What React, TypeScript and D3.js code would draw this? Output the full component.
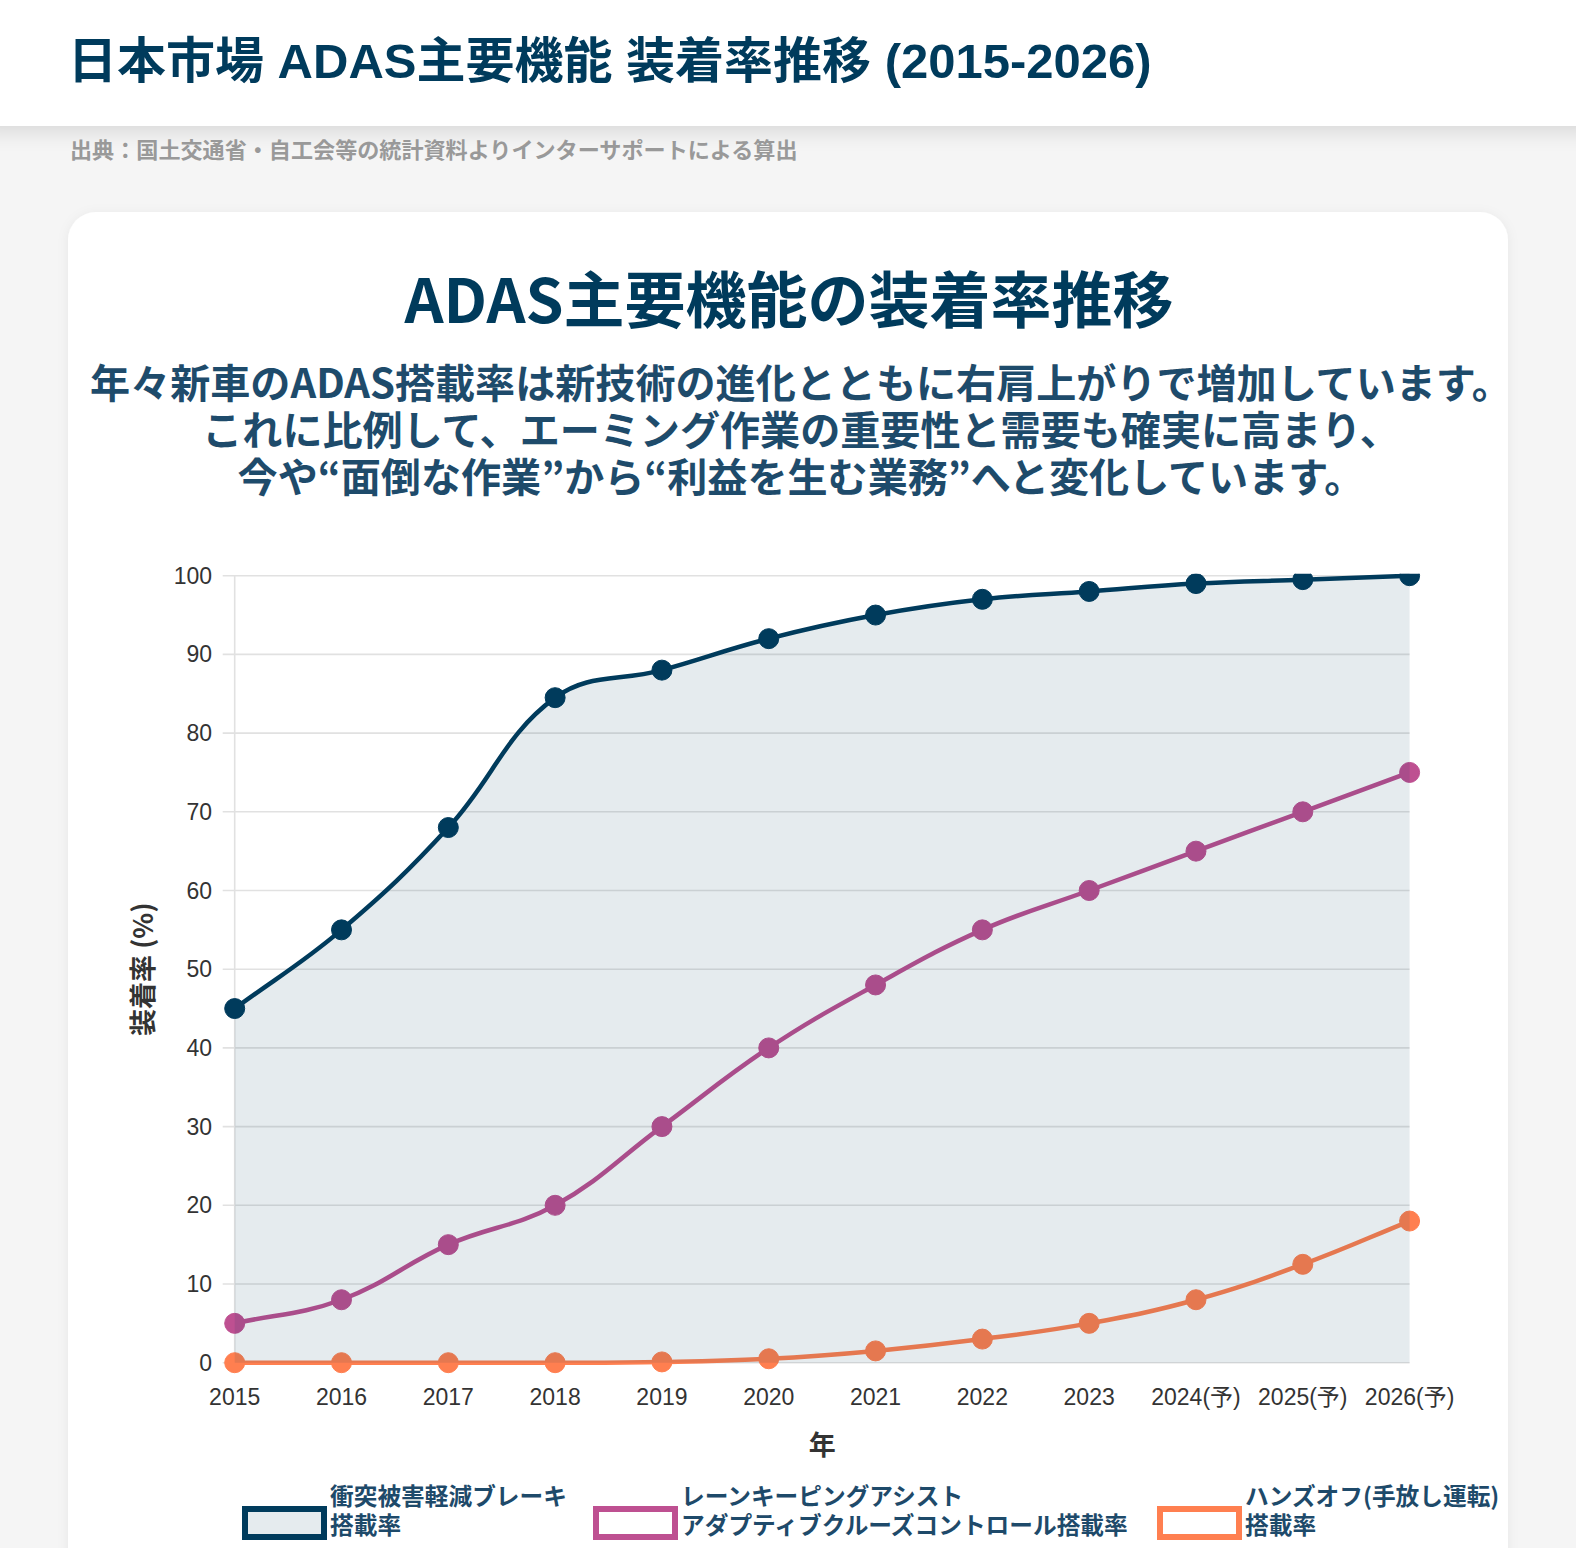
import React, { useRef, useEffect } from "react";
import * as d3 from "d3";

// ADAS feature fitment rates in new cars, Japan 2015-2026
const years = [
  "2015", "2016", "2017", "2018", "2019", "2020",
  "2021", "2022", "2023", "2024(予)", "2025(予)", "2026(予)",
];
const aebRate = [45, 55, 68, 84.5, 88, 92, 95, 97, 98, 99, 99.5, 100];
const lkaAccRate = [5, 8, 15, 20, 30, 40, 48, 55, 60, 65, 70, 75];
const handsOffRate = [0, 0, 0, 0, 0.1, 0.5, 1.5, 3, 5, 8, 12.5, 18];
const yTicks = [0, 10, 20, 30, 40, 50, 60, 70, 80, 90, 100];

const seriesNames = [
  ["衝突被害軽減ブレーキ", "搭載率"],
  ["レーンキーピングアシスト", "アダプティブクルーズコントロール搭載率"],
  ["ハンズオフ(手放し運転)", "搭載率"],
];

const pageTitle = "日本市場 ADAS主要機能 装着率推移 (2015-2026)";
const sourceNote = "出典：国土交通省・自工会等の統計資料よりインターサポートによる算出";
const chartTitle = "ADAS主要機能の装着率推移";
const leadLines = [
  "年々新車のADAS搭載率は新技術の進化とともに右肩上がりで増加しています。",
  "これに比例して、エーミング作業の重要性と需要も確実に高まり、",
  "今や“面倒な作業”から“利益を生む業務”へと変化しています。",
];

const W = 1576;
const H = 1548;
const NAVY = "#003b5c";
const PLUM = "#be5091";
const CORAL = "#ff7f50";
const JP = "'Noto Sans CJK JP', 'Noto Sans', sans-serif";
const LAT = "'Liberation Sans', Arial, 'Noto Sans CJK JP', sans-serif";
const TENSION = 0.4;

type Pt = [number, number];

// tension spline through the points, control points kept inside the plot box
function splinePath(pts: Pt[], box: { x0: number; x1: number; y0: number; y1: number }) {
  const clampX = (v: number) => Math.max(box.x0, Math.min(box.x1, v));
  const clampY = (v: number) => Math.max(box.y0, Math.min(box.y1, v));
  const n = pts.length;
  const cpIn: Pt[] = [];
  const cpOut: Pt[] = [];
  for (let i = 0; i < n; i++) {
    const p0 = pts[Math.max(0, i - 1)];
    const p1 = pts[i];
    const p2 = pts[Math.min(n - 1, i + 1)];
    const d01 = Math.hypot(p1[0] - p0[0], p1[1] - p0[1]);
    const d12 = Math.hypot(p2[0] - p1[0], p2[1] - p1[1]);
    let s01 = d01 / (d01 + d12);
    let s12 = d12 / (d01 + d12);
    if (!isFinite(s01)) s01 = 0;
    if (!isFinite(s12)) s12 = 0;
    const fa = TENSION * s01;
    const fb = TENSION * s12;
    const dx = p2[0] - p0[0];
    const dy = p2[1] - p0[1];
    cpIn.push([clampX(p1[0] - fa * dx), clampY(p1[1] - fa * dy)]);
    cpOut.push([clampX(p1[0] + fb * dx), clampY(p1[1] + fb * dy)]);
  }
  const path = d3.path();
  path.moveTo(pts[0][0], pts[0][1]);
  for (let i = 1; i < n; i++) {
    path.bezierCurveTo(cpOut[i - 1][0], cpOut[i - 1][1], cpIn[i][0], cpIn[i][1], pts[i][0], pts[i][1]);
  }
  return path.toString();
}

export default function App() {
  const svgRef = useRef<SVGSVGElement>(null);

  useEffect(() => {
    document.body.style.margin = "0";
    document.body.style.overflow = "hidden";

    const svg = d3.select(svgRef.current);
    svg.selectAll("*").remove();
    svg.attr("viewBox", `0 0 ${W} ${H}`);

    const defs = svg.append("defs");
    const hdrShadow = defs.append("filter").attr("id", "hdrShadow")
      .attr("x", "-5%").attr("y", "-50%").attr("width", "110%").attr("height", "200%");
    hdrShadow.append("feDropShadow").attr("dx", 0).attr("dy", 6)
      .attr("stdDeviation", 10).attr("flood-color", "#000").attr("flood-opacity", 0.12);
    const cardShadow = defs.append("filter").attr("id", "cardShadow")
      .attr("x", "-5%").attr("y", "-5%").attr("width", "110%").attr("height", "110%");
    cardShadow.append("feDropShadow").attr("dx", 0).attr("dy", 2)
      .attr("stdDeviation", 6).attr("flood-color", "#000").attr("flood-opacity", 0.06);

    // page background, header band
    svg.append("rect").attr("width", W).attr("height", H).attr("fill", "#f5f5f5");
    svg.append("rect").attr("x", -20).attr("y", -20).attr("width", W + 40).attr("height", 146)
      .attr("fill", "#fff").attr("filter", "url(#hdrShadow)");

    svg.append("text").attr("x", 68).attr("y", 61)
      .attr("dominant-baseline", "central")
      .attr("font-family", LAT).attr("font-weight", 700).attr("font-size", 49)
      .attr("fill", NAVY).text(pageTitle);

    svg.append("text").attr("x", 70).attr("y", 148)
      .attr("dominant-baseline", "central")
      .attr("font-family", JP).attr("font-weight", 700).attr("font-size", 22.1)
      .attr("fill", "#999").text(sourceNote);

    // card
    svg.append("rect").attr("x", 68).attr("y", 212).attr("width", 1440).attr("height", 1420)
      .attr("rx", 28).attr("fill", "#fff").attr("filter", "url(#cardShadow)");

    svg.append("text").attr("x", 789).attr("y", 296)
      .attr("text-anchor", "middle").attr("dominant-baseline", "central")
      .attr("font-family", JP).attr("font-weight", 700).attr("font-size", 61)
      .attr("fill", NAVY).text(chartTitle);

    svg.append("g").selectAll("text").data(leadLines).join("text")
      .attr("x", 801).attr("y", (_, i) => 380 + i * 47.3)
      .attr("text-anchor", "middle").attr("dominant-baseline", "central")
      .attr("font-family", JP).attr("font-weight", 700).attr("font-size", 40.1)
      .attr("fill", "#1e4b6b").text((d) => d);

    // chart area
    const left = 234.7, right = 1409.6, top = 575.7, bottom = 1362.7;
    const x = d3.scalePoint<string>().domain(years).range([left, right]);
    const y = d3.scaleLinear().domain([0, 100]).range([bottom, top]);

    const g = svg.append("g");

    g.append("g").selectAll("line").data(yTicks).join("line")
      .attr("x1", left - 12).attr("x2", right)
      .attr("y1", (d) => y(d)).attr("y2", (d) => y(d))
      .attr("stroke", "#e1e1e1").attr("stroke-width", 1.6);

    g.append("line").attr("x1", left).attr("x2", left)
      .attr("y1", top).attr("y2", bottom)
      .attr("stroke", "#e1e1e1").attr("stroke-width", 1.6);

    g.append("g").selectAll("text").data(yTicks).join("text")
      .attr("x", 212).attr("y", (d) => y(d))
      .attr("text-anchor", "end").attr("dominant-baseline", "central")
      .attr("font-family", LAT).attr("font-size", 23).attr("fill", "#333")
      .text((d) => d);

    g.append("g").selectAll("text").data(years).join("text")
      .attr("x", (d) => x(d)!).attr("y", 1397)
      .attr("text-anchor", "middle").attr("dominant-baseline", "central")
      .attr("font-family", LAT).attr("font-size", 23).attr("fill", "#333")
      .text((d) => d);

    g.append("text")
      .attr("transform", `translate(141,${(top + bottom) / 2}) rotate(-90)`)
      .attr("text-anchor", "middle").attr("dominant-baseline", "central")
      .attr("font-family", JP).attr("font-weight", 700).attr("font-size", 27)
      .attr("fill", "#333").text("装着率 (%)");

    g.append("text").attr("x", (left + right) / 2).attr("y", 1443)
      .attr("text-anchor", "middle").attr("dominant-baseline", "central")
      .attr("font-family", JP).attr("font-weight", 700).attr("font-size", 27)
      .attr("fill", "#333").text("年");

    // plotted series, clipped at the top of the value range
    defs.append("clipPath").attr("id", "plotClip").append("rect")
      .attr("x", left - 40).attr("y", top - 2)
      .attr("width", right - left + 80).attr("height", bottom - top + 60);

    const plot = svg.append("g").attr("clip-path", "url(#plotClip)");
    const box = { x0: left, x1: right, y0: top, y1: bottom };

    const drawSeries = (values: number[], color: string, withFill: boolean) => {
      const pts: Pt[] = values.map((v, i) => [x(years[i])!, y(v)]);
      const d = splinePath(pts, box);
      const s = plot.append("g");
      if (withFill) {
        s.append("path")
          .attr("d", `${d}L${x(years[years.length - 1])},${y(0)}L${x(years[0])},${y(0)}Z`)
          .attr("fill", color).attr("fill-opacity", 0.1);
      }
      s.append("path").attr("d", d)
        .attr("fill", "none").attr("stroke", color).attr("stroke-width", 4.5);
      s.selectAll("circle").data(values).join("circle")
        .attr("cx", (_, i) => x(years[i])!)
        .attr("cy", (v) => y(v))
        .attr("r", 10).attr("fill", color)
        .attr("stroke", color).attr("stroke-width", 1);
    };

    // drawn back to front so the first series' fill lies over the others
    drawSeries(handsOffRate, CORAL, false);
    drawSeries(lkaAccRate, PLUM, false);
    drawSeries(aebRate, NAVY, true);

    // legend
    const legendColors = [NAVY, PLUM, CORAL];
    const legendFills = ["rgba(0,59,92,0.1)", "#fff", "#fff"];
    const legendX = [242, 593, 1157];
    const legend = svg.append("g");
    seriesNames.forEach((lines, i) => {
      const item = legend.append("g").attr("transform", `translate(${legendX[i]},1506)`);
      item.append("rect").attr("x", 3).attr("y", 3).attr("width", 79).attr("height", 28)
        .attr("fill", legendFills[i]).attr("stroke", legendColors[i]).attr("stroke-width", 6);
      item.selectAll("text").data(lines).join("text")
        .attr("x", 88).attr("y", (_, j) => -11 + j * 28.5)
        .attr("dominant-baseline", "central")
        .attr("font-family", JP).attr("font-weight", 700).attr("font-size", 23.7)
        .attr("fill", "#1e4a6a").text((d) => d);
    });
  }, []);

  return (
    <div style={{ position: "absolute", left: 0, top: 0, width: W, height: H }}>
      <svg ref={svgRef} width={W} height={H} style={{ display: "block" }} />
    </div>
  );
}
